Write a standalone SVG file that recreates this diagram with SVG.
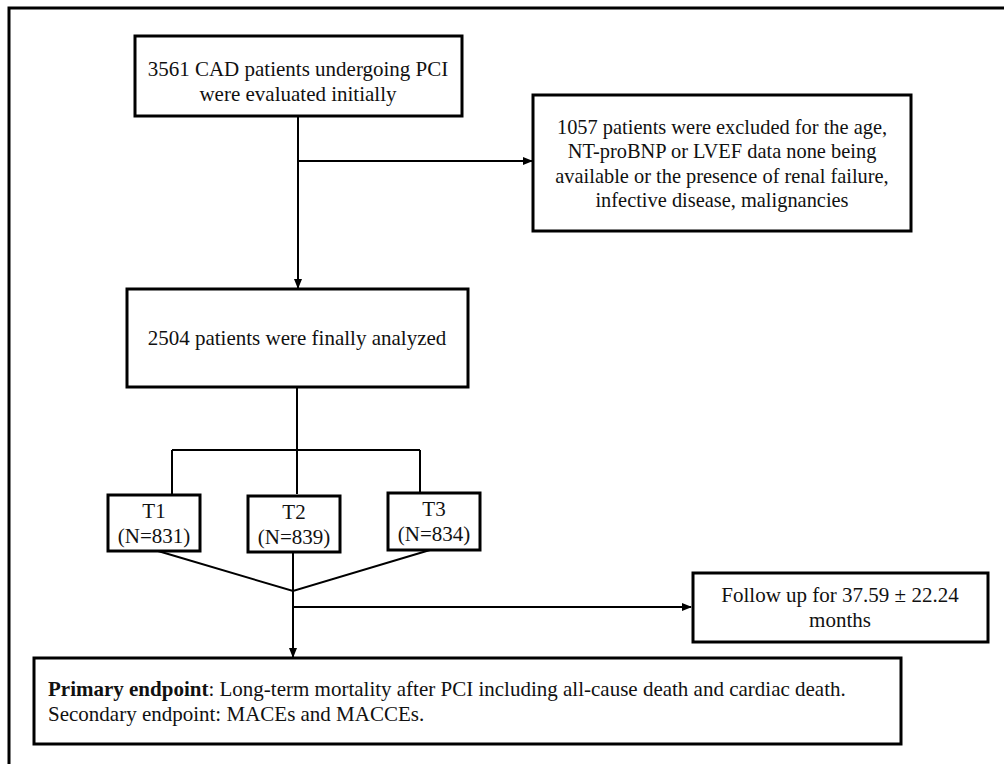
<svg xmlns="http://www.w3.org/2000/svg" width="1004" height="764" viewBox="0 0 1004 764">
<defs>
<marker id="arr" markerWidth="10" markerHeight="10" refX="9" refY="5" orient="auto" markerUnits="userSpaceOnUse">
<path d="M0,1 L10,5 L0,9 Z" fill="#000"/>
</marker>
<style>
.box{fill:#fff;stroke:#000;stroke-width:3}
.t{font-family:"Liberation Serif","Times New Roman",serif;font-size:21px;fill:#111;text-anchor:middle}
.tl{font-family:"Liberation Serif","Times New Roman",serif;font-size:21px;fill:#111}
.ln{fill:none;stroke:#000;stroke-width:2}
</style>
</defs>
<rect x="0" y="0" width="1004" height="764" fill="#fff"/>
<rect x="9" y="8" width="1010" height="780" fill="none" stroke="#000" stroke-width="3"/>
<g id="connectors">
<path class="ln" d="M298,116 V288" marker-end="url(#arr)"/>
<path class="ln" d="M298,161 H532" marker-end="url(#arr)"/>
<path class="ln" d="M297,387 V494"/>
<path class="ln" d="M172,450 H420 M172,450 V494 M420,450 V492"/>
<path class="ln" d="M158,551 L293,591 L430,550 M293,552 V591"/>
<path class="ln" d="M293,591 V657" stroke-width="2.5" marker-end="url(#arr)"/>
<path class="ln" d="M293,607 H691" marker-end="url(#arr)"/>
</g>
<g id="n1"><rect class="box" x="135" y="36" width="327" height="80"/>
<text class="t" x="298" y="76">3561 CAD patients undergoing PCI</text>
<text class="t" x="298" y="101">were evaluated initially</text></g>
<g id="n2"><rect class="box" x="533" y="95" width="378" height="136"/>
<g style="font-size:20.4px">
<text class="t" x="722" y="134" style="font-size:20.4px">1057 patients were excluded for the age,</text>
<text class="t" x="722" y="158" style="font-size:20.4px">NT-proBNP or LVEF data none being</text>
<text class="t" x="722" y="183" style="font-size:20.4px">available or the presence of renal failure,</text>
<text class="t" x="722" y="207" style="font-size:20.4px">infective disease, malignancies</text></g></g>
<g id="n3"><rect class="box" x="127" y="289" width="341" height="98"/>
<text class="t" x="297" y="345">2504 patients were finally analyzed</text></g>
<g id="t1"><rect class="box" x="108" y="495" width="92" height="56"/>
<text class="t" x="154" y="518">T1</text><text class="t" x="154" y="543">(N=831)</text></g>
<g id="t2"><rect class="box" x="248" y="496" width="92" height="56"/>
<text class="t" x="294" y="519">T2</text><text class="t" x="294" y="544">(N=839)</text></g>
<g id="t3"><rect class="box" x="388" y="493" width="92" height="57"/>
<text class="t" x="434" y="516">T3</text><text class="t" x="434" y="541">(N=834)</text></g>
<g id="follow"><rect class="box" x="693" y="573" width="295" height="69"/>
<text class="t" x="840" y="602">Follow up for 37.59 ± 22.24</text>
<text class="t" x="840" y="627">months</text></g>
<g id="end"><rect class="box" x="34" y="658" width="867" height="86"/>
<text class="tl" x="48" y="696"><tspan font-weight="bold">Primary endpoint</tspan>: Long-term mortality after PCI including all-cause death and cardiac death.</text>
<text class="tl" x="48" y="721">Secondary endpoint: MACEs and MACCEs.</text></g>
</svg>
